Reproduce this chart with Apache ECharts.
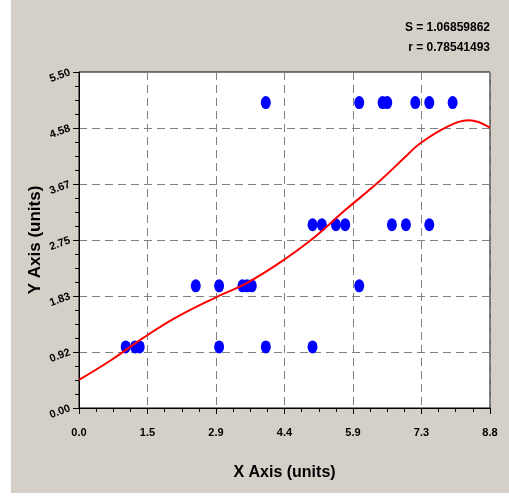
<!DOCTYPE html>
<html>
<head>
<meta charset="utf-8">
<script src="https://cdn.jsdelivr.net/npm/echarts@6/dist/echarts.min.js"></script>
<style>
  html, body { margin: 0; padding: 0; background: #ffffff; }
  #wrap { position: relative; width: 509px; height: 499px; }
  #panel { position: absolute; left: 11px; top: 0; width: 498px; height: 493px; background: #d4d0c8; }
  #chart { position: absolute; left: 0; top: 0; width: 509px; height: 499px; }
</style>
</head>
<body>
<div id="wrap">
  <div id="panel"></div>
  <div id="chart"></div>
</div>
<script>
// Observed samples
const xValues = [1.0, 1.2, 1.3, 3.0, 4.0, 5.0,
                 2.5, 3.0, 3.5, 3.6, 3.7, 6.0,
                 5.0, 5.2, 5.5, 5.7, 6.7, 7.0, 7.5,
                 4.0, 6.0, 6.5, 6.6, 7.2, 7.5, 8.0];
const yValues = [1, 1, 1, 1, 1, 1,
                 2, 2, 2, 2, 2, 2,
                 3, 3, 3, 3, 3, 3, 3,
                 5, 5, 5, 5, 5, 5, 5];

// Fitted curve, sampled along x
const fitX = [0.0, 0.7, 1.4, 2.1, 2.9, 3.6, 4.3, 5.0, 5.7, 6.4, 7.0, 7.3, 7.9, 8.35, 8.8];
const fitY = [0.46, 0.79, 1.16, 1.49, 1.80, 2.05, 2.38, 2.77, 3.24, 3.69, 4.12, 4.33, 4.61, 4.71, 4.59];

// Axis tick labels
const xTickLabels = ['0.0', '1.5', '2.9', '4.4', '5.9', '7.3', '8.8'];
const yTickLabels = ['0.00', '0.92', '1.83', '2.75', '3.67', '4.58', '5.50'];

// Fit statistics
const statLines = ['S = 1.06859862', 'r = 0.78541493'];

const xMax = 8.8, yMax = 5.5;
const xStep = xMax / 6, yStep = yMax / 6;

const font = "'Liberation Sans', Arial, sans-serif";

const chart = echarts.init(document.getElementById('chart'), null, { renderer: 'canvas' });

const dashed = { show: true, lineStyle: { color: '#808080', width: 1, type: [8, 5] } };

chart.setOption({
  backgroundColor: 'transparent',
  animation: false,
  grid: {
    left: 79, top: 72, right: 19, bottom: 91,
    show: true, backgroundColor: '#ffffff', borderColor: '#000000', borderWidth: 1
  },
  graphic: statLines.map((t, i) => ({
    type: 'text',
    right: 19,
    top: 22 + i * 20,
    style: { text: t, font: 'bold 12px ' + font, fill: '#000000' }
  })),
  xAxis: {
    type: 'value', min: 0, max: xMax, interval: xStep,
    name: 'X Axis (units)', nameLocation: 'middle', nameGap: 57,
    nameTextStyle: { fontFamily: font, fontWeight: 'bold', fontSize: 16, color: '#000' },
    axisLine: { show: true, onZero: false, lineStyle: { color: '#000', width: 1 } },
    axisTick: { show: true, inside: false, length: 6, lineStyle: { color: '#000' } },
    minorTick: { show: true, splitNumber: 4, length: 4, lineStyle: { color: '#000' } },
    splitLine: dashed,
    axisLabel: {
      margin: 19, fontFamily: font, fontWeight: 'bold', fontSize: 11, color: '#000',
      formatter: v => xTickLabels[Math.round(v / xStep)] ?? ''
    }
  },
  yAxis: {
    type: 'value', min: 0, max: yMax, interval: yStep,
    name: 'Y Axis (units)', nameLocation: 'middle', nameGap: 35, nameRotate: 90,
    nameMoveOverlap: false,
    nameTextStyle: { fontFamily: font, fontWeight: 'bold', fontSize: 17, color: '#000' },
    axisLine: { show: true, onZero: false, lineStyle: { color: '#000', width: 1 } },
    axisTick: { show: true, inside: false, length: 6, lineStyle: { color: '#000' } },
    minorTick: { show: true, splitNumber: 4, length: 4, lineStyle: { color: '#000' } },
    splitLine: dashed,
    axisLabel: {
      margin: 9, rotate: 20, fontFamily: font, fontWeight: 'bold', fontSize: 11, color: '#000',
      formatter: v => yTickLabels[Math.round(v / yStep)] ?? ''
    }
  },
  series: [
    {
      type: 'scatter',
      data: xValues.map((x, i) => [x, yValues[i]]),
      symbol: 'circle',
      symbolSize: [10, 13],
      itemStyle: { color: '#0000ff', opacity: 1 },
      z: 3
    },
    {
      type: 'line',
      data: fitX.map((x, i) => [x, fitY[i]]),
      smooth: 0.4,
      showSymbol: false,
      lineStyle: { color: '#ff0000', width: 2 },
      z: 4
    }
  ]
});
</script>
</body>
</html>
